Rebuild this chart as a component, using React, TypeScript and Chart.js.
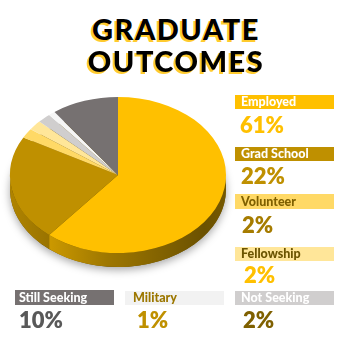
import React, { useEffect, useRef } from "react";
import { Chart, registerables } from "chart.js";

Chart.register(...registerables);

const categories = ["Employed", "Grad School", "Volunteer", "Fellowship", "Not Seeking", "Military", "Still Seeking"];
const values = [61, 22, 2, 2, 2, 1, 10];
const sliceColors = ["#FFC000", "#BF9000", "#FFD966", "#FFE699", "#D0CECE", "#F5F5F5", "#767171"];
const percentLabels = ["61%", "22%", "2%", "2%", "2%", "1%", "10%"];

const SY = 78 / 108;
const DEPTH = 14;

function shade(hex: string, f: number) {
  const n = parseInt(hex.slice(1), 16);
  const r = Math.round(((n >> 16) & 255) * f);
  const g = Math.round(((n >> 8) & 255) * f);
  const b = Math.round((n & 255) * f);
  return `rgb(${r},${g},${b})`;
}

const pie3d = {
  id: "pie3d",
  beforeDatasetsDraw(chart: any) {
    const ctx = chart.ctx as CanvasRenderingContext2D;
    const meta = chart.getDatasetMeta(0);
    if (!meta.data.length) return;
    const first = meta.data[0];
    const cx = first.x, cy = first.y, R = first.outerRadius;
    ctx.save();
    ctx.shadowColor = "rgba(0,0,0,0.35)";
    ctx.shadowBlur = 9;
    ctx.shadowOffsetY = 3;
    ctx.fillStyle = "#6B5100";
    ctx.beginPath();
    ctx.ellipse(cx, cy + DEPTH, R, R * SY, 0, 0, Math.PI * 2);
    ctx.fill();
    ctx.restore();
    meta.data.forEach((arc: any, i: number) => {
      const s = Math.max(arc.startAngle, 0);
      const e = Math.min(arc.endAngle, Math.PI);
      if (e <= s) return;
      const base = sliceColors[i];
      const g = ctx.createLinearGradient(cx - R, 0, cx + R, 0);
      g.addColorStop(0, shade(base, 0.92));
      g.addColorStop(0.15, shade(base, 0.82));
      g.addColorStop(0.45, shade(base, 0.62));
      g.addColorStop(0.9, shade(base, 0.42));
      g.addColorStop(1, shade(base, 0.46));
      ctx.save();
      ctx.fillStyle = g;
      ctx.beginPath();
      ctx.ellipse(cx, cy, R, R * SY, 0, s, e, false);
      ctx.ellipse(cx, cy + DEPTH, R, R * SY, 0, e, s, true);
      ctx.closePath();
      ctx.fill();
      ctx.restore();
    });
    ctx.save();
    ctx.translate(cx, cy);
    ctx.scale(1, SY);
    ctx.translate(-cx, -cy);
  },
  afterDatasetsDraw(chart: any) {
    chart.ctx.restore();
  },
};

const FONT = "Lato, 'DejaVu Sans', sans-serif";

type Item = { idx: number; x: number; barTop: number; barH: number; textColor: string; pctColor: string; pad: number; pctX: number; pctBase: number };

const items: Item[] = [
  { idx: 0, x: 235, barTop: 95, barH: 14, textColor: "#FFFFFF", pctColor: "#FFC000", pad: 6, pctX: 240, pctBase: 133 },
  { idx: 1, x: 235, barTop: 147, barH: 14, textColor: "#FFFFFF", pctColor: "#BF9000", pad: 6, pctX: 241, pctBase: 184 },
  { idx: 2, x: 235, barTop: 194, barH: 15, textColor: "#7F6000", pctColor: "#A67C00", pad: 6, pctX: 242, pctBase: 233 },
  { idx: 3, x: 235, barTop: 247, barH: 14, textColor: "#6B5400", pctColor: "#FFC000", pad: 6, pctX: 244, pctBase: 283 },
  { idx: 6, x: 15, barTop: 290, barH: 15, textColor: "#FFFFFF", pctColor: "#595959", pad: 4, pctX: 19, pctBase: 328 },
  { idx: 5, x: 125, barTop: 291, barH: 14, textColor: "#9C7700", pctColor: "#BF9000", pad: 8, pctX: 137, pctBase: 328 },
  { idx: 4, x: 235, barTop: 291, barH: 14, textColor: "#FFFFFF", pctColor: "#7F6000", pad: 6, pctX: 243, pctBase: 328 },
];

const barColors: Record<number, string> = { 0: "#FFC000", 1: "#BF9000", 2: "#FFD966", 3: "#FFE699", 4: "#D0CECE", 5: "#F2F2F2", 6: "#767171" };

export default function App() {
  const ref = useRef<HTMLCanvasElement>(null);
  useEffect(() => {
    document.body.style.margin = "0";
    const chart = new Chart(ref.current!, {
      type: "pie",
      data: {
        labels: categories,
        datasets: [{ data: values, backgroundColor: sliceColors, borderWidth: 0 }],
      },
      options: {
        animation: false,
        responsive: false,
        events: [],
        layout: { padding: 10 },
        plugins: { legend: { display: false }, tooltip: { enabled: false }, title: { display: false } },
      },
      plugins: [pie3d],
    });
    return () => chart.destroy();
  }, []);

  const titleStyle = (top: number): React.CSSProperties => ({
    position: "absolute", left: 0, width: 352, top, textAlign: "center",
    fontFamily: FONT, fontWeight: 900, fontSize: 29, lineHeight: "29px",
    letterSpacing: 1.5, color: "#000", textShadow: "-2px 1.5px 0 #FFCB2E", whiteSpace: "nowrap",
  });

  return (
    <div style={{ position: "fixed", left: 0, top: 0, width: 350, height: 350, background: "#fff", overflow: "hidden" }}>
      <canvas ref={ref} width={236} height={236} style={{ position: "absolute", left: 0, top: 57, width: 236, height: 236 }} />
      <div style={titleStyle(14)}>GRADUATE</div>
      <div style={titleStyle(46)}>OUTCOMES</div>
      {items.map((it) => (
        <React.Fragment key={it.idx}>
          <div style={{
            position: "absolute", left: it.x, top: it.barTop, width: 99, height: it.barH,
            background: barColors[it.idx], color: it.textColor, fontFamily: FONT, fontWeight: 900,
            fontSize: 12.5, lineHeight: `${it.barH}px`, paddingLeft: it.pad, boxSizing: "border-box", whiteSpace: "nowrap",
          }}>{categories[it.idx]}</div>
          <div style={{
            position: "absolute", left: it.pctX, top: it.pctBase - 11 - 8.5, fontFamily: FONT, fontWeight: 800,
            fontSize: 22, lineHeight: "22px", color: it.pctColor, whiteSpace: "nowrap",
          }}>{percentLabels[it.idx]}</div>
        </React.Fragment>
      ))}
    </div>
  );
}
